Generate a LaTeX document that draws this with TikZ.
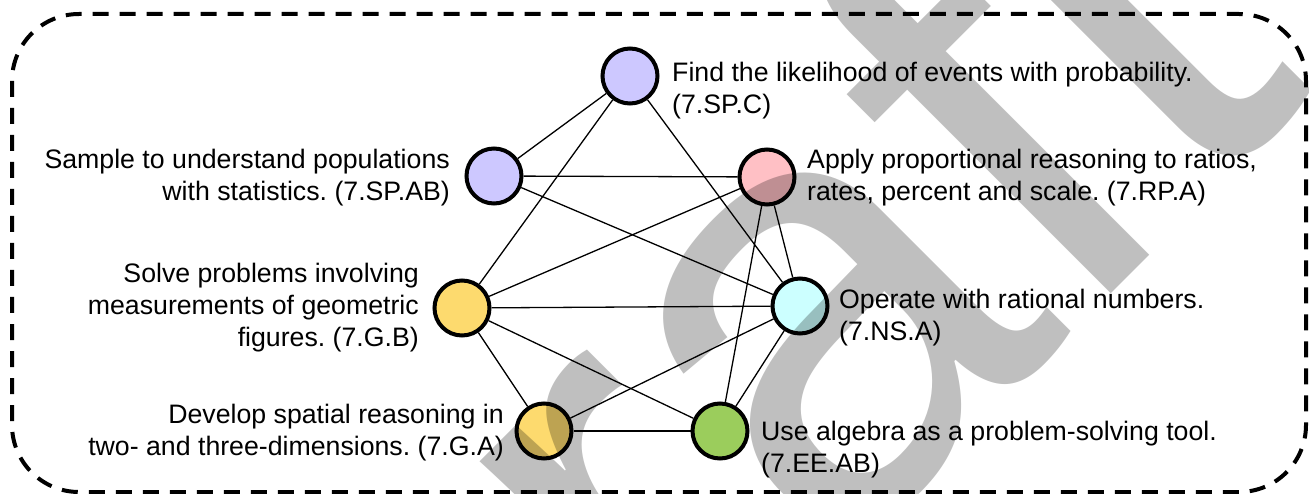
\documentclass[tikz,border=0pt]{standalone}
\usepackage{fontspec}
\setmainfont{Liberation Sans}
\frenchspacing
\definecolor{probcol}{RGB}{205,200,255}
\definecolor{ratiocol}{RGB}{255,192,197}
\definecolor{geomcol}{RGB}{253,218,110}
\definecolor{numcol}{RGB}{204,255,255}
\definecolor{algcol}{RGB}{155,205,92}
\tikzset{
  topic/.style={circle, draw=black, line width=4pt, minimum size=55pt, inner sep=0pt},
  blurb/.style={inner sep=0pt, font=\fontsize{26.7}{32}\selectfont},
  link/.style={line width=1.3pt}
}
\begin{document}
\begin{tikzpicture}[x=1pt,y=-1pt]
  \useasboundingbox (0,0) rectangle (1309,494);
  \draw [dash pattern=on 16pt off 11pt, line width=4pt, rounded corners=67pt] (12,14) rectangle (1306,492);
  % topics
  \node [topic, fill=probcol] (spc) at (630,76) {};
  \node [topic, fill=probcol] (spab) at (494,176) {};
  \node [topic, fill=ratiocol] (rpa) at (767,177) {};
  \node [topic, fill=geomcol] (gb) at (462,308) {};
  \node [topic, fill=numcol] (nsa) at (800,306) {};
  \node [topic, fill=geomcol] (ga) at (544,431) {};
  \node [topic, fill=algcol] (eeab) at (720,431) {};
  % texts
  \node [blurb, anchor=west, align=left] (spctext) at (672,91) {Find the likelihood of events with probability.\\(7.SP.C)};
  \node [blurb, anchor=east, align=right] (spabtext) at (450,178) {Sample to understand populations\\with statistics. (7.SP.AB)};
  \node [blurb, anchor=west, align=left] (rpatext) at (807,178) {Apply proportional reasoning to ratios,\\rates, percent and scale. (7.RP.A)};
  \node [blurb, anchor=east, align=right] (gbtext) at (419,308) {Solve problems involving\\measurements of geometric\\figures. (7.G.B)};
  \node [blurb, anchor=west, align=left] (nsatext) at (839,318) {Operate with rational numbers.\\(7.NS.A)};
  \node [blurb, anchor=east, align=right] (gatext) at (504,433) {Develop spatial reasoning in\\two- and three-dimensions. (7.G.A)};
  \node [blurb, anchor=west, align=left] (eeabtext) at (761,450) {Use algebra as a problem-solving tool.\\(7.EE.AB)};
  % links
  \draw [link] (spc) -- (spab);
  \draw [link] (spc) -- (gb);
  \draw [link] (spc) -- (nsa);
  \draw [link] (spab) -- (rpa);
  \draw [link] (spab) -- (nsa);
  \draw [link] (rpa) -- (gb);
  \draw [link] (rpa) -- (nsa);
  \draw [link] (rpa) -- (eeab);
  \draw [link] (gb) -- (nsa);
  \draw [link] (gb) -- (ga);
  \draw [link] (gb) -- (eeab);
  \draw [link] (ga) -- (nsa);
  \draw [link] (ga) -- (eeab);
  \draw [link] (nsa) -- (eeab);
  % watermark
  \begin{scope}[blend mode=multiply]
    \node [rotate=45, anchor=base west, inner sep=0pt, text=lightgray, font=\fontsize{620}{620}\selectfont] (mark) at (366,1039) {Draft};
  \end{scope}
\end{tikzpicture}
\end{document}
